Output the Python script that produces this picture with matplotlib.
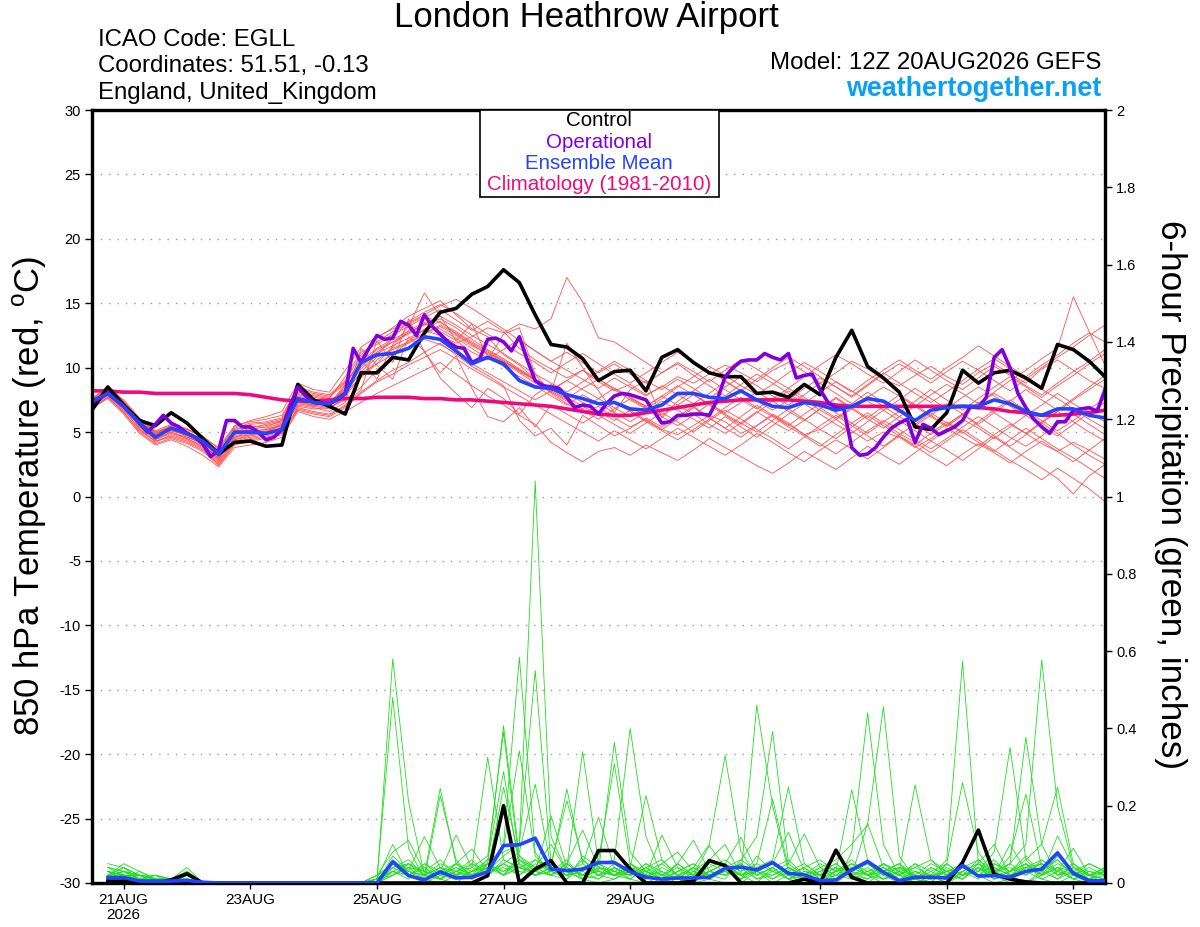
import numpy as np
import matplotlib
matplotlib.use('Agg')
import matplotlib.pyplot as plt
from matplotlib.patches import Rectangle

plt.rcParams['font.family'] = ['Liberation Sans', 'DejaVu Sans']
plt.rcParams['mathtext.fontset'] = 'custom'
plt.rcParams['mathtext.rm'] = 'Liberation Sans'
plt.rcParams['axes.unicode_minus'] = False

# ---- time axis (hours after 12Z 20AUG2026) ----
start = np.datetime64('2026-08-20T12', 'h')
tick_dates = np.array(['2026-08-21T00', '2026-08-23T00', '2026-08-25T00', '2026-08-27T00',
                       '2026-08-29T00', '2026-09-01T00', '2026-09-03T00', '2026-09-05T00'],
                      dtype='datetime64[h]')
tick_labels = ['21AUG\n2026', '23AUG', '25AUG', '27AUG', '29AUG', '1SEP', '3SEP', '5SEP']
tick_hours = (tick_dates - start) / np.timedelta64(1, 'h')

temp_hours = np.arange(0, 385, 6)      # 65 steps
precip_hours = np.arange(6, 385, 6)    # 64 steps

# ---- 850 hPa temperature (C) ----
control_t = [6.7, 8.5, 7.1, 5.9, 5.5, 6.5, 5.7, 4.5, 3.3, 4.2, 4.3, 3.9, 4.0,
             8.7, 7.5, 7.0, 6.4, 9.6, 9.6, 10.8, 10.6, 12.7, 14.3, 14.6, 15.7, 16.3,
             17.6, 16.6, 14.1, 11.8, 11.6, 10.7, 9.0, 9.7, 9.8, 8.2, 10.8, 11.4, 10.4,
             9.6, 9.3, 9.3, 8.0, 8.1, 7.7, 8.7, 7.9, 10.8, 12.9, 10.1, 9.2, 8.1,
             5.4, 5.2, 6.5, 9.8, 8.8, 9.6, 9.8, 9.2, 8.4, 11.8, 11.4, 10.5, 9.3]

mean_t = [7.4, 8.0, 7.0, 5.7, 4.6, 5.3, 4.9, 4.3, 3.3, 5.0, 5.0, 4.9, 5.2,
          7.6, 7.3, 7.2, 8.0, 10.4, 11.0, 11.1, 11.5, 12.4, 12.2, 11.3, 10.3, 10.8,
          10.3, 9.0, 8.5, 8.4, 7.9, 7.6, 7.2, 7.3, 6.8, 6.7, 7.1, 8.0, 8.0,
          7.7, 7.6, 8.2, 7.5, 7.0, 6.9, 7.3, 7.1, 6.7, 7.0, 7.6, 7.4, 6.7,
          5.9, 6.7, 6.9, 7.0, 7.0, 7.5, 7.2, 6.6, 6.3, 6.8, 6.8, 6.3, 6.1]

clim_t = [8.2, 8.2, 8.1, 8.1, 8.0, 8.0, 8.0, 8.0, 8.0, 8.0, 7.9, 7.7, 7.5,
          7.4, 7.4, 7.5, 7.6, 7.6, 7.7, 7.7, 7.7, 7.6, 7.6, 7.5, 7.5, 7.4,
          7.3, 7.2, 7.1, 7.0, 6.8, 6.6, 6.4, 6.3, 6.3, 6.5, 6.7, 6.9, 7.1,
          7.3, 7.4, 7.5, 7.5, 7.5, 7.5, 7.4, 7.3, 7.1, 7.0, 7.0, 7.0, 7.0,
          7.0, 7.0, 7.0, 7.0, 6.9, 6.8, 6.6, 6.5, 6.3, 6.3, 6.4, 6.5, 6.7]

# operational run is 3-hourly after the first day
op_hours = [0, 6, 12, 18] + list(range(21, 385, 3))
op_t = [7.3, 8.0, 7.0, 5.7,
        5.0, 5.6, 6.3, 5.7, 5.4, 4.9, 4.6, 4.1,
        3.1, 3.6, 5.9, 5.9, 5.4, 5.4, 5.0, 4.4,
        4.6, 5.2, 7.0, 8.5, 7.8, 7.3, 7.2, 7.2,
        7.5, 8.0, 11.5, 10.4, 11.5, 12.5, 12.2, 12.3,
        13.6, 13.3, 12.5, 14.1, 13.2, 12.6, 12.0, 11.6,
        11.5, 10.4, 10.7, 12.2, 12.3, 12.0, 11.3, 12.4,
        10.6, 9.0, 8.6, 8.5, 8.4, 7.7, 6.9, 7.1,
        7.0, 6.4, 7.2, 7.8, 8.0, 7.9, 7.7, 7.5,
        6.6, 5.7, 5.8, 6.3, 6.3, 6.4, 6.4, 6.3,
        7.5, 9.3, 10.0, 10.5, 10.6, 10.6, 11.1, 10.8,
        10.6, 11.1, 9.2, 9.4, 9.5, 8.3, 7.3, 6.9,
        6.8, 3.8, 3.2, 3.3, 3.8, 4.6, 5.3, 5.7,
        6.0, 4.2, 5.6, 5.3, 4.8, 5.1, 5.4, 5.9,
        7.0, 6.9, 7.7, 10.8, 11.4, 10.0, 8.0, 6.9,
        6.0, 5.4, 4.9, 5.8, 5.8, 6.7, 6.8, 6.9,
        6.6, 8.3]

# ensemble members, temperature
ens_t = [
    [7.0, 8.3, 7.2, 5.4, 4.6, 5.2, 4.9, 4.0, 3.0, 4.5, 5.2, 5.0, 5.6,
     7.8, 7.5, 7.0, 8.6, 10.8, 12.3, 13.1, 14.0, 14.6, 15.2, 14.1, 13.0, 12.4,
     11.0, 10.2, 9.1, 8.0, 7.2, 6.5, 7.0, 6.1, 5.4, 6.0, 5.2, 4.8, 5.5,
     6.3, 5.8, 4.9, 5.5, 6.4, 5.7, 4.8, 5.2, 6.0, 5.1, 4.3, 5.0, 4.6,
     3.8, 4.5, 5.3, 4.6, 3.9, 4.8, 5.6, 4.9, 4.1, 3.5, 4.2, 3.6, 2.9],
    [7.5, 8.0, 6.8, 5.9, 4.9, 5.4, 5.0, 4.4, 3.5, 4.9, 5.3, 5.6, 5.9,
     8.2, 7.8, 7.6, 9.3, 11.2, 11.8, 12.6, 13.2, 13.9, 14.5, 13.7, 12.9, 13.6,
     12.8, 11.5, 10.6, 9.9, 9.2, 9.8, 8.9, 8.2, 8.7, 7.9, 8.5, 9.3, 8.8,
     9.5, 10.2, 9.6, 8.9, 9.8, 10.4, 9.7, 8.8, 9.6, 10.5, 9.9, 9.1, 8.6,
     9.4, 10.1, 9.3, 8.7, 9.6, 10.3, 9.5, 8.8, 9.9, 10.6, 9.8, 9.0, 8.4],
    [6.8, 7.7, 6.5, 5.1, 4.3, 4.6, 4.2, 3.6, 2.5, 4.1, 4.4, 4.6, 4.9,
     6.9, 6.6, 6.4, 7.0, 8.1, 9.0, 9.8, 10.4, 11.2, 11.9, 11.0, 10.1, 9.4,
     8.6, 5.9, 4.7, 5.3, 4.0, 6.3, 5.5, 4.7, 5.3, 6.1, 5.4, 6.2, 7.0,
     6.1, 5.3, 6.2, 7.1, 6.3, 5.5, 6.4, 7.2, 6.5, 5.7, 4.9, 5.8, 6.6,
     5.7, 4.8, 5.6, 6.4, 5.5, 4.7, 3.9, 4.8, 5.7, 4.9, 4.0, 3.2, 2.5],
    [7.3, 8.1, 7.1, 5.8, 4.7, 5.1, 4.8, 4.3, 3.1, 5.2, 5.5, 5.3, 5.7,
     7.5, 7.0, 7.4, 8.2, 9.6, 10.3, 11.6, 12.9, 13.5, 12.8, 12.1, 11.2, 10.6,
     12.6, 13.1, 9.5, 8.1, 11.9, 10.0, 8.2, 6.5, 8.3, 9.0, 6.1, 7.4, 8.2,
     9.1, 8.3, 7.5, 6.8, 7.6, 8.4, 7.7, 6.9, 6.1, 6.9, 7.8, 7.0, 6.2,
     5.5, 6.3, 7.2, 6.4, 5.6, 6.5, 7.4, 8.3, 7.5, 6.7, 7.6, 8.5, 9.4],
    [7.1, 7.9, 7.3, 5.5, 4.4, 4.9, 4.5, 3.9, 2.8, 4.4, 4.7, 4.9, 5.3,
     7.0, 6.8, 6.9, 7.5, 8.5, 9.8, 10.9, 12.1, 13.0, 13.6, 12.6, 11.8, 11.0,
     10.4, 9.6, 8.8, 8.1, 7.4, 6.7, 6.0, 6.8, 7.6, 6.9, 6.2, 5.5, 6.3,
     7.2, 6.4, 5.7, 5.0, 5.9, 6.8, 6.0, 5.2, 4.5, 5.4, 6.3, 5.5, 4.7,
     4.0, 4.9, 5.8, 5.0, 4.2, 3.5, 4.4, 5.3, 4.5, 3.7, 3.0, 2.2, 1.4],
    [7.6, 8.5, 7.5, 6.1, 5.1, 5.6, 5.2, 4.6, 3.8, 5.5, 5.8, 6.0, 6.3,
     8.4, 8.0, 7.8, 8.9, 10.3, 11.4, 12.0, 12.6, 13.4, 13.0, 12.3, 11.5, 10.7,
     11.4, 12.2, 11.3, 10.5, 11.2, 10.4, 9.6, 10.3, 9.5, 8.8, 9.6, 10.4, 9.7,
     8.9, 9.8, 10.6, 9.9, 9.1, 8.4, 9.3, 10.2, 11.0, 10.3, 9.5, 8.8, 9.7,
     10.6, 9.8, 9.0, 8.3, 9.2, 10.1, 9.4, 8.6, 7.9, 8.8, 9.7, 10.5, 11.4],
    [7.2, 8.2, 6.9, 5.7, 4.5, 5.3, 4.6, 4.2, 3.2, 4.8, 5.1, 5.2, 5.5,
     7.4, 7.1, 7.3, 8.4, 10.1, 11.1, 11.7, 12.3, 12.9, 12.5, 11.9, 12.4, 13.1,
     12.7, 13.4, 13.0, 13.8, 17.0, 15.1, 12.3, 12.0, 11.2, 10.4, 9.6, 10.3, 9.4,
     8.6, 7.8, 8.7, 9.5, 8.8, 8.0, 7.2, 8.1, 8.9, 8.2, 7.4, 6.7, 7.5,
     8.4, 7.6, 6.8, 7.7, 8.5, 7.8, 7.0, 6.3, 7.1, 8.0, 7.2, 6.5, 5.8],
    [6.9, 7.6, 6.4, 4.9, 4.0, 4.4, 3.9, 3.2, 2.3, 3.8, 4.0, 4.2, 4.6,
     6.6, 6.2, 6.0, 6.6, 7.3, 8.0, 8.6, 9.2, 9.8, 10.4, 9.5, 8.6, 7.8,
     7.1, 6.3, 5.6, 4.2, 3.4, 2.7, 3.5, 3.8, 3.2, 4.0, 3.4, 2.8, 3.6,
     4.5, 3.8, 3.1, 2.4, 1.8, 2.6, 3.5, 2.8, 2.1, 3.0, 3.9, 3.2, 2.5,
     3.4, 4.3, 3.6, 2.8, 3.7, 4.6, 3.8, 3.0, 2.2, 1.4, 0.2, 1.6, 2.5],
    [7.4, 8.4, 7.2, 5.8, 4.9, 5.5, 5.3, 4.5, 3.6, 5.4, 5.9, 6.2, 6.6,
     8.8, 8.3, 8.1, 9.8, 11.6, 12.4, 13.0, 13.5, 14.1, 14.8, 15.3, 14.6, 13.8,
     13.0, 12.1, 11.3, 10.5, 9.8, 9.1, 8.4, 9.2, 8.5, 7.8, 8.6, 7.9, 7.2,
     8.0, 8.9, 8.2, 7.4, 6.7, 7.5, 8.4, 9.2, 8.5, 7.7, 8.6, 9.5, 10.3,
     9.6, 8.8, 9.7, 10.5, 9.8, 9.0, 8.2, 9.1, 10.0, 10.8, 11.6, 12.5, 13.3],
    [7.0, 7.8, 6.7, 5.3, 4.2, 4.8, 4.4, 3.8, 2.7, 4.3, 4.6, 4.8, 5.1,
     7.1, 6.9, 6.6, 7.3, 11.5, 10.2, 9.1, 12.4, 11.3, 9.2, 8.0, 6.9, 8.4,
     7.6, 6.4, 7.9, 8.7, 8.0, 7.3, 6.6, 5.9, 6.7, 5.9, 5.2, 6.0, 6.9,
     6.1, 5.3, 4.6, 5.5, 6.3, 5.6, 4.8, 4.1, 3.3, 4.2, 5.1, 5.9, 5.2,
     4.4, 3.7, 4.5, 5.4, 6.2, 5.4, 4.6, 3.9, 4.7, 5.6, 6.4, 5.6, 4.8],
    [7.5, 8.6, 7.4, 6.0, 5.0, 5.3, 4.9, 4.4, 3.4, 4.6, 4.9, 5.1, 5.5,
     8.0, 7.7, 7.5, 8.1, 9.2, 10.6, 11.4, 11.9, 12.6, 13.2, 12.5, 11.7, 11.1,
     10.5, 9.8, 9.0, 8.3, 7.6, 8.4, 9.1, 8.4, 7.7, 7.0, 7.8, 8.6, 7.9,
     7.2, 6.5, 7.3, 8.1, 7.4, 6.6, 5.9, 6.8, 7.7, 6.9, 6.1, 7.0, 7.9,
     7.1, 6.3, 5.5, 6.4, 7.3, 6.5, 5.7, 4.9, 5.8, 6.6, 5.8, 5.0, 4.3],
    [7.2, 8.0, 7.0, 5.5, 4.6, 5.2, 4.7, 4.0, 3.0, 5.0, 5.4, 5.5, 5.8,
     7.7, 7.4, 7.2, 8.7, 10.5, 11.5, 12.2, 12.8, 13.3, 13.8, 13.1, 12.2, 11.4,
     10.7, 9.9, 9.1, 8.4, 7.7, 7.0, 6.3, 5.6, 4.9, 5.7, 6.5, 5.8, 5.0,
     5.9, 6.7, 6.0, 5.2, 4.5, 3.7, 4.6, 5.5, 6.3, 5.5, 4.7, 3.9, 4.8,
     5.6, 6.5, 5.7, 4.9, 5.8, 6.7, 7.5, 6.7, 5.9, 5.1, 5.9, 6.8, 7.6],
    [7.3, 8.2, 7.1, 5.7, 4.8, 5.4, 5.1, 4.3, 3.3, 4.9, 5.2, 5.4, 5.9,
     7.9, 7.6, 7.3, 8.3, 9.9, 11.0, 12.3, 13.6, 14.3, 14.9, 14.2, 13.4, 12.6,
     11.9, 11.1, 10.4, 9.6, 10.4, 11.1, 10.3, 9.5, 8.8, 9.6, 10.4, 11.2, 10.5,
     9.7, 9.0, 8.2, 9.1, 10.0, 10.8, 10.1, 9.3, 8.5, 7.8, 8.7, 9.6, 8.8,
     8.0, 7.3, 8.1, 9.0, 9.9, 10.7, 9.9, 9.1, 8.3, 7.6, 6.8, 6.0, 5.3],
    [7.0, 7.9, 6.8, 5.2, 4.3, 4.7, 4.3, 3.7, 2.6, 4.2, 4.5, 4.7, 5.0,
     6.8, 6.5, 6.3, 7.1, 8.3, 12.1, 10.4, 13.8, 11.2, 9.6, 10.9, 8.4, 6.2,
     5.8, 6.9, 5.4, 7.1, 6.4, 5.7, 6.5, 7.3, 6.6, 5.8, 5.1, 4.4, 5.2,
     6.0, 6.9, 7.7, 6.9, 6.2, 5.4, 4.7, 3.9, 4.8, 5.7, 6.5, 5.7, 4.9,
     4.2, 3.4, 4.3, 5.2, 4.4, 3.6, 2.8, 2.1, 1.3, 2.2, 1.4, 0.6, -0.4],
    [7.6, 8.4, 7.4, 6.0, 5.0, 5.5, 5.2, 4.7, 3.7, 5.3, 5.7, 5.8, 6.1,
     8.5, 8.1, 7.9, 9.0, 11.0, 12.0, 12.8, 13.4, 14.0, 13.5, 12.8, 12.0, 11.3,
     10.6, 9.8, 9.1, 8.3, 9.0, 9.8, 9.1, 8.3, 7.5, 6.8, 7.6, 8.5, 9.3,
     10.1, 9.4, 8.6, 7.9, 8.7, 9.6, 10.4, 9.7, 8.9, 8.1, 9.0, 9.8, 10.6,
     9.8, 9.1, 10.0, 10.8, 11.7, 10.9, 10.1, 9.3, 10.2, 11.0, 11.9, 12.7, 12.0],
    [7.1, 8.0, 6.9, 5.4, 4.4, 5.0, 4.6, 4.1, 2.9, 4.6, 4.8, 5.0, 5.4,
     7.2, 7.0, 6.8, 7.8, 9.3, 10.3, 11.0, 11.6, 12.2, 11.8, 11.1, 10.3, 9.6,
     8.9, 8.2, 7.5, 8.2, 9.0, 8.3, 7.6, 6.9, 6.2, 7.0, 7.8, 7.1, 6.4,
     5.6, 4.9, 5.7, 6.6, 5.8, 5.1, 5.9, 6.8, 7.6, 6.8, 6.0, 5.3, 6.2,
     7.0, 7.9, 8.7, 8.0, 7.2, 8.1, 9.0, 9.8, 10.7, 11.5, 15.5, 12.8, 10.2],
    [7.4, 8.1, 7.0, 5.6, 4.7, 5.1, 4.8, 4.2, 3.1, 4.7, 5.0, 5.2, 5.6,
     7.6, 7.3, 7.0, 8.0, 9.7, 10.8, 11.5, 12.0, 12.7, 13.3, 12.7, 11.9, 11.2,
     10.5, 9.7, 9.0, 8.2, 7.5, 6.8, 7.6, 8.4, 7.7, 7.0, 6.3, 7.1, 7.9,
     7.1, 6.3, 5.6, 6.5, 7.4, 8.2, 7.5, 6.7, 6.0, 6.8, 7.7, 8.5, 7.8,
     7.0, 6.2, 5.4, 6.3, 7.2, 8.0, 7.3, 6.5, 5.7, 6.6, 7.5, 8.3, 9.1],
    [6.9, 7.7, 6.6, 5.0, 4.1, 4.5, 4.1, 3.5, 2.4, 4.0, 4.3, 4.5, 4.8,
     6.7, 6.4, 6.2, 6.9, 8.0, 8.9, 9.5, 10.2, 10.8, 11.4, 10.7, 9.9, 9.2,
     8.5, 7.8, 7.1, 6.4, 5.7, 5.0, 4.3, 5.1, 4.4, 3.7, 4.5, 5.3, 4.6,
     3.9, 3.2, 4.0, 4.9, 4.2, 3.4, 2.7, 3.6, 4.4, 3.7, 2.9, 3.8, 4.7,
     3.9, 3.1, 2.4, 3.3, 4.1, 3.4, 2.6, 3.5, 4.3, 3.5, 2.7, 3.6, 4.5],
    [7.5, 8.3, 7.3, 5.9, 4.9, 5.4, 5.0, 4.5, 3.5, 5.1, 5.6, 5.7, 6.0,
     8.1, 7.9, 7.7, 8.8, 10.4, 11.2, 12.0, 12.7, 13.4, 14.0, 13.3, 12.5, 11.8,
     11.1, 10.3, 9.5, 8.8, 8.1, 8.9, 9.7, 10.5, 9.8, 9.0, 8.3, 9.1, 8.4,
     7.6, 8.5, 9.3, 8.6, 7.8, 7.1, 7.9, 8.8, 8.0, 7.2, 8.1, 7.3, 6.5,
     7.4, 8.3, 7.5, 6.7, 7.6, 8.5, 9.3, 8.5, 7.7, 8.6, 9.4, 10.3, 11.1],
    [7.2, 7.9, 6.9, 5.6, 4.5, 5.0, 4.5, 3.9, 3.0, 4.4, 4.8, 5.0, 5.3,
     7.3, 7.1, 6.9, 7.6, 10.6, 9.1, 11.8, 13.2, 15.8, 14.0, 12.1, 13.4, 10.8,
     10.1, 9.3, 8.6, 7.8, 7.1, 7.9, 7.2, 6.5, 5.8, 6.6, 7.4, 6.7, 6.0,
     5.3, 6.2, 5.4, 4.6, 5.5, 6.4, 7.2, 6.4, 5.6, 4.9, 5.8, 6.7, 5.9,
     5.1, 4.3, 5.2, 6.0, 5.3, 4.5, 5.4, 6.3, 5.5, 4.7, 5.6, 6.5, 7.3],
]

# ---- 6-hour precipitation (inches) ----
control_p = [.005, .005, .002, 0, .008, .024, 0, 0, 0, 0, 0, 0, 0, 0, 0, 0,
             0, 0, 0, 0, 0, 0, 0, 0, .019, .2, 0, .036, .058, 0, 0, .084,
             .084, .036, 0, 0, 0, .005, .058, .045, 0, 0, 0, 0, .01, 0, .085, .015,
             0, 0, 0, 0, 0, 0, .053, .137, .023, .01, .003, 0, 0, 0, 0, 0]

mean_p = [.014, .014, .005, .005, .005, .007, .002, 0, 0, 0, 0, 0, 0, 0, 0, 0,
          0, 0, .055, .019, .008, .029, .013, .015, .029, .097, .099, .116, .036, .032, .036, .053,
          .053, .029, .015, .010, .013, .013, .015, .038, .041, .034, .053, .025, .021, .006, .008, .034,
          .056, .028, .006, .015, .015, .013, .045, .018, .019, .015, .030, .036, .078, .025, .006, .006]

ens_p = [
    [.03, .02, .01, .01, 0, .02, 0, 0, 0, 0, 0, 0, 0, 0, 0, 0,
     0, 0, .58, .21, .02, .01, 0, .03, .06, .08, .1, 1.04, .12, .03, .01, 0,
     .01, .03, 0, 0, .02, .04, .01, 0, 0, .03, .05, .02, 0, 0, .01, .04,
     .02, 0, 0, .01, 0, .05, .26, .08, .02, 0, 0, .03, .06, .02, 0, 0],
    [.05, .04, .02, 0, .01, .01, 0, 0, 0, 0, 0, 0, 0, 0, 0, 0,
     0, .01, .48, .09, .01, 0, .02, .04, .07, .39, .05, .02, .03, .06, .01, .02,
     .04, .01, 0, .02, 0, .03, .06, .1, .02, .46, .2, .03, .01, 0, .02, .01,
     0, .03, .05, .01, 0, 0, .02, .04, .01, .03, .07, .02, .04, .01, 0, .01],
    [.02, .05, .03, .01, .01, .03, 0, 0, 0, 0, 0, 0, 0, 0, 0, 0,
     0, 0, .07, .03, .02, .245, .05, .02, .04, .1, .584, .08, .02, .01, .04, .03,
     .02, .01, .04, .06, .02, 0, .01, .03, .02, 0, .04, .06, .02, .01, 0, .08,
     .44, .1, .02, 0, .01, .03, .05, .02, 0, .01, .04, .06, .03, .01, .02, 0],
    [.04, .03, .02, .02, .01, .04, 0, 0, 0, 0, 0, 0, 0, 0, 0, 0,
     0, .02, .05, .04, .01, .226, .06, .01, .03, .07, .1, .55, .05, .02, .06, .02,
     .01, .04, .02, 0, .03, .05, .02, .01, .06, .03, 0, .02, .01, .04, .06, .1,
     .15, .456, .07, .01, .02, 0, .03, .01, .04, .02, 0, .02, .05, .03, 0, .01],
    [.01, .02, .02, 0, 0, .01, 0, 0, 0, 0, 0, 0, 0, 0, 0, 0,
     0, 0, .04, .06, .02, .05, .03, .04, .325, .06, .04, .03, .02, .05, .02, .03,
     .364, .08, .03, .01, 0, .02, .05, .03, .01, .07, .03, .01, 0, .02, .04, .02,
     .01, .05, .03, .02, 0, .01, .04, .06, .02, .05, .1, .577, .2, .04, .02, .04],
    [.03, .01, .01, .02, 0, .02, 0, 0, 0, 0, 0, 0, 0, 0, 0, 0,
     0, .01, .1, .02, 0, .02, .01, .03, .05, .407, .07, .04, .1, .03, .01, .05,
     .06, .40, .12, .02, .01, 0, .03, .02, .05, .01, .02, .04, .02, 0, .03, .06,
     .02, .01, .03, 0, .02, .06, .574, .05, .01, .02, .03, .01, 0, .02, .05, .03],
    [.02, .03, .01, .01, .01, .02, 0, 0, 0, 0, 0, 0, 0, 0, 0, 0,
     0, 0, .03, .01, .05, .02, .04, .02, .06, .288, .04, .02, .03, .01, .07, .04,
     .03, .02, .05, .02, .01, .04, .1, .33, .08, .02, .04, .01, .03, .02, 0, .03,
     .05, .02, 0, .03, .01, .02, .05, .03, .08, .351, .06, .02, .04, .01, .03, .02],
    [.04, .02, .02, .01, 0, .01, 0, 0, 0, 0, 0, 0, 0, 0, 0, 0,
     0, .01, .05, .02, .01, .04, .02, .05, .03, .248, .06, .03, .02, .04, .34, .05,
     .02, .03, .01, .04, .02, .01, .03, .05, .02, .04, .01, .03, .05, .02, .04, .01,
     .03, .05, .02, .01, 0, .04, .02, .06, .03, .05, .377, .1, .02, .03, .01, .04],
    [.02, .04, .01, 0, .01, .02, 0, 0, 0, 0, 0, 0, 0, 0, 0, 0,
     0, 0, .06, .03, .01, .03, .05, .02, .04, .09, .342, .07, .03, .05, .02, .01,
     .04, .02, .03, .01, .05, .02, .01, .04, .06, .12, .392, .05, .02, .04, .01, .03,
     .02, .04, .01, .03, .02, 0, .03, .05, .02, .07, .23, .04, .06, .02, .01, 0],
    [.03, .02, .02, .01, 0, .03, 0, 0, 0, 0, 0, 0, 0, 0, 0, 0,
     0, .02, .04, .05, .02, .01, .03, .06, .02, .05, .08, .256, .04, .02, .03, .06,
     .308, .05, .02, .03, .01, .04, .02, .03, .05, .02, .04, .01, .02, .03, .05, .02,
     .04, .01, .03, .254, .06, .02, .01, .04, .02, .03, .05, .02, .07, .03, .02, .01],
    [.01, .03, .02, .01, .01, .01, 0, 0, 0, 0, 0, 0, 0, 0, 0, 0,
     0, 0, .02, .04, .03, .06, .02, .01, .05, .03, .06, .02, .04, .243, .05, .02,
     .03, .05, .02, .01, .03, .02, .04, .06, .03, .05, .217, .04, .02, .01, .03, .05,
     .02, .03, .05, .02, .01, .03, .04, .02, .05, .03, .06, .1, .248, .05, .02, .03],
    [.02, .01, .03, .01, 0, .02, 0, 0, 0, 0, 0, 0, 0, 0, 0, 0,
     0, .01, .03, .02, .04, .01, .03, .05, .02, .06, .04, .03, .05, .213, .06, .03,
     .02, .04, .226, .06, .02, .03, .01, .04, .02, .03, .05, .02, .04, .06, .03, .241,
     .06, .02, .04, .01, .03, .05, .02, .03, .06, .02, .04, .05, .03, .02, .04, .02],
    [.03, .02, .01, .02, .01, .02, 0, 0, 0, 0, 0, 0, 0, 0, 0, 0,
     0, 0, .05, .03, .02, .04, .01, .03, .05, .02, .07, .03, .174, .04, .02, .05,
     .03, .02, .04, .01, .03, .05, .02, .03, .01, .04, .06, .248, .05, .02, .03, .04,
     .02, .05, .03, .04, .02, .03, .01, .05, .03, .04, .02, .06, .03, .05, .02, .01],
    [.02, .03, .01, .01, 0, .01, 0, 0, 0, 0, 0, 0, 0, 0, 0, 0,
     0, .01, .02, .05, .03, .02, .04, .02, .03, .05, .02, .06, .04, .03, .05, .17,
     .04, .02, .03, .05, .02, .01, .03, .02, .04, .03, .05, .131, .03, .02, .04, .03,
     .05, .02, .03, .01, .04, .02, .05, .135, .04, .02, .03, .05, .02, .04, .03, .02],
    [.04, .03, .02, .01, .01, .02, 0, 0, 0, 0, 0, 0, 0, 0, 0, 0,
     0, .02, .08, .11, .03, .02, .05, .03, .04, .02, .06, .04, .02, .05, .137, .04,
     .02, .05, .03, .02, .04, .01, .03, .05, .02, .03, .01, .04, .02, .05, .03, .02,
     .154, .04, .02, .05, .03, .01, .04, .02, .03, .05, .02, .04, .01, .03, .05, .03],
    [.01, .02, .02, .01, 0, .01, 0, 0, 0, 0, 0, 0, 0, 0, 0, 0,
     0, 0, .04, .02, .05, .03, .124, .04, .02, .05, .03, .02, .04, .03, .02, .04,
     .03, .01, .04, .02, .05, .111, .03, .02, .04, .01, .03, .05, .127, .04, .02, .03,
     .01, .03, .04, .02, .05, .03, .02, .04, .01, .03, .05, .02, .04, .03, .01, .02],
    [.02, .02, .01, .02, .01, .02, 0, 0, 0, 0, 0, 0, 0, 0, 0, 0,
     0, .01, .03, .05, .02, .04, .03, .01, .05, .02, .04, .06, .03, .02, .04, .02,
     .05, .03, .02, .124, .04, .02, .03, .05, .118, .03, .02, .04, .01, .03, .05, .02,
     .03, .04, .02, .05, .01, .03, .04, .02, .05, .03, .04, .02, .122, .04, .02, .01],
    [.03, .01, .02, .01, 0, .03, 0, 0, 0, 0, 0, 0, 0, 0, 0, 0,
     0, 0, .02, .04, .03, .01, .05, .088, .03, .04, .02, .05, .03, .04, .02, .03,
     .02, .04, .03, .01, .05, .02, .097, .04, .02, .05, .03, .02, .04, .01, .03, .05,
     .02, .03, .05, .01, .04, .02, .03, .05, .1, .02, .04, .03, .01, .05, .02, .03],
    [.02, .04, .02, .01, .01, .02, 0, 0, 0, 0, 0, 0, 0, 0, 0, 0,
     0, .01, .05, .03, .12, .04, .02, .03, .05, .02, .04, .03, .05, .02, .03, .01,
     .04, .02, .05, .03, .01, .04, .02, .03, .05, .02, .04, .01, .03, .02, .08, .03,
     .05, .02, .04, .03, .01, .05, .02, .03, .04, .02, .05, .01, .03, .09, .02, .04],
    [.01, .02, .01, 0, 0, .01, 0, 0, 0, 0, 0, 0, 0, 0, 0, 0,
     0, 0, .03, .02, .04, .01, .03, .02, .04, .03, .05, .02, .04, .03, .01, .04,
     .02, .03, .01, .05, .08, .03, .02, .04, .01, .03, .05, .02, .04, .01, .02, .05,
     .03, .01, .02, .04, .06, .03, .01, .04, .02, .1, .03, .05, .02, .04, .01, .03],
]

precip_ticks = [0, 0.2, 0.4, 0.6, 0.8, 1.0, 1.2, 1.4, 1.6, 1.8, 2.0]
temp_ticks = [-30, -25, -20, -15, -10, -5, 0, 5, 10, 15, 20, 25, 30]

# ---- figure ----
W, H = 1200, 927
fig = plt.figure(figsize=(W / 100, H / 100), dpi=100)
ax = fig.add_axes([92 / W, (H - 883) / H, 1013 / W, 773 / H])

for m in ens_t:
    ax.plot(temp_hours, m, color='#ff5050', lw=0.6, zorder=2)
ax.plot(temp_hours, clim_t, color='#ee0a7a', lw=2.6, zorder=3)
ax.plot(temp_hours, control_t, color='black', lw=2.6, zorder=4)
ax.plot(op_hours, op_t, color='#8000dd', lw=2.6, zorder=5)
ax.plot(temp_hours, mean_t, color='#2244ff', lw=2.6, zorder=6)

ax.set_xlim(0, 384)
ax.set_ylim(-30, 30)
ax.set_yticks(temp_ticks)
ax.set_xticks(tick_hours)
ax.set_xticklabels(tick_labels, fontsize=11, linespacing=1.15)
ax.tick_params(axis='y', direction='out', length=5, width=1, labelsize=10.5, pad=3)
ax.tick_params(axis='x', direction='out', length=4, width=1, pad=3)
ax.yaxis.grid(True, linestyle=(0, (1, 5)), color='#999999', lw=1)
ax.set_axisbelow(True)

ax2 = ax.twinx()
for m in ens_p:
    ax2.plot(precip_hours, m, color='#22dd22', lw=0.6, zorder=2)
ax2.plot(precip_hours, control_p, color='black', lw=2.6, zorder=4)
ax2.plot(precip_hours, mean_p, color='#2244ff', lw=2.6, zorder=5)
ax2.set_ylim(0, 2)
ax2.set_xlim(0, 384)
ax2.set_yticks(precip_ticks)
ax2.set_yticklabels(['%g' % t for t in precip_ticks])
ax2.tick_params(axis='y', direction='out', length=5, width=1, labelsize=10.5, pad=3)

for a in (ax, ax2):
    for s in a.spines.values():
        s.set_linewidth(2.3)

# ---- texts ----
fig.text(586 / W, 1 - 18 / H, 'London Heathrow Airport', ha='center', va='center', fontsize=25)
fig.text(98 / W, 1 - 40 / H, 'ICAO Code: EGLL', ha='left', va='center', fontsize=17.3)
fig.text(98 / W, 1 - 66 / H, 'Coordinates: 51.51, -0.13', ha='left', va='center', fontsize=17.3)
fig.text(98 / W, 1 - 93 / H, 'England, United_Kingdom', ha='left', va='center', fontsize=17.3)
fig.text(1101 / W, 1 - 63 / H, 'Model: 12Z 20AUG2026 GEFS', ha='right', va='center', fontsize=17.3)
fig.text(1101 / W, 1 - 89 / H, 'weathertogether.net', ha='right', va='center',
         fontsize=19.4, fontweight='bold', color='#0aa0f5')

fig.text(30 / W, 1 - 496 / H, r'850 hPa Temperature (red, $^{\mathrm{o}}$C)', rotation=90,
         ha='center', va='center', fontsize=25)
fig.text(1170 / W, 1 - 495 / H, '6-hour Precipitation (green, inches)', rotation=270,
         ha='center', va='center', fontsize=25.3)

# legend box
fig.add_artist(Rectangle((480 / W, 1 - 197 / H), 239 / W, 87 / H, transform=fig.transFigure,
                         facecolor='white', edgecolor='black', lw=1.2, zorder=10))
legend_items = [('Control', 'black'), ('Operational', '#8000dd'),
                ('Ensemble Mean', '#2244ff'), ('Climatology (1981-2010)', '#ee0a7a')]
for k, (txt, col) in enumerate(legend_items):
    fig.text(599 / W, 1 - (121 + 21.3 * k) / H, txt, ha='center', va='center',
             fontsize=14.8, color=col, zorder=11)

fig.savefig('out.png', dpi=100)
